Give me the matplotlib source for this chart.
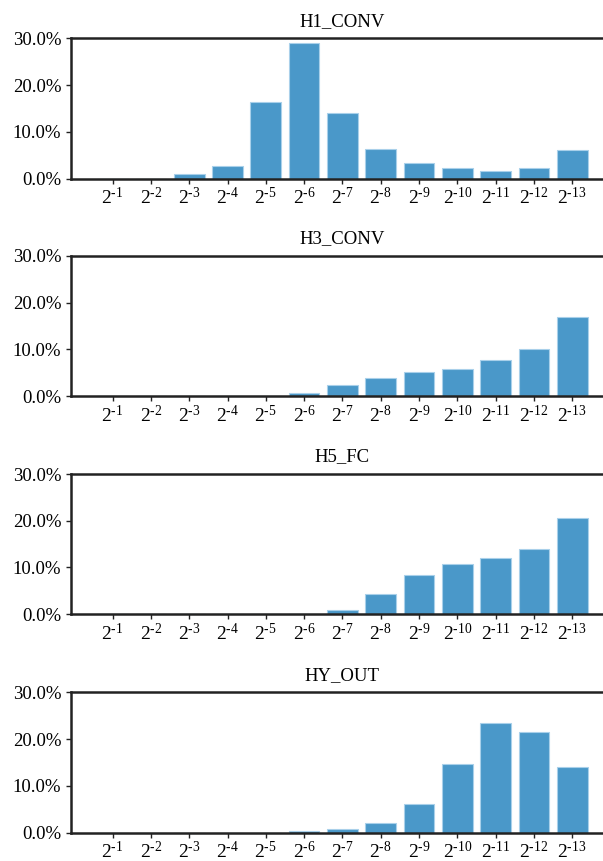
import matplotlib
matplotlib.use("Agg")
import matplotlib.pyplot as plt
import numpy as np
from matplotlib.ticker import PercentFormatter

plt.rcParams['font.family'] = ['Liberation Serif', 'DejaVu Serif']
plt.rcParams['mathtext.fontset'] = 'custom'
plt.rcParams['mathtext.rm'] = 'Liberation Serif'
plt.rcParams['mathtext.it'] = 'Liberation Serif'

# quantisation step bins 2^-1 ... 2^-13
exponents = list(range(1, 14))
tick_labels = [r'$2^{\text{-}%d}$' % e for e in exponents]

titles = ["H1_CONV", "H3_CONV", "H5_FC", "HY_OUT"]

h1_conv = [0.0, 0.0, 0.93, 2.7, 16.4, 28.9, 14.0, 6.36, 3.36, 2.29, 1.64, 2.29, 6.14]
h3_conv = [0.0, 0.0, 0.0, 0.0, 0.05, 0.79, 2.43, 4.0, 5.14, 5.86, 7.79, 10.07, 17.0]
h5_fc = [0.0, 0.0, 0.0, 0.0, 0.0, 0.0, 1.0, 4.4, 8.46, 10.8, 12.0, 14.0, 20.5]
hy_out = [0.0, 0.0, 0.0, 0.0, 0.0, 0.28, 0.71, 2.07, 6.13, 14.68, 23.4, 21.45, 14.04]

series = [h1_conv, h3_conv, h5_fc, hy_out]

W, H = 603, 861
fig = plt.figure(figsize=(W / 100, H / 100), dpi=100)

bar_color = '#4a98c9'
axes_tops = [38.3, 256.0, 474.0, 692.3]
axes_height = 140.2
left_px = 71.0
spacing_px = 38.3          # distance between bar centres
first_center_px = 112.6

x = np.arange(1, 14)
margin = (first_center_px - left_px) / spacing_px
xmin = 1 - margin
xmax = 13 + margin
right_px = first_center_px + (xmax - 1) * spacing_px   # runs past the figure edge

for top, title, vals in zip(axes_tops, titles, series):
    ax = fig.add_axes([left_px / W, 1 - (top + axes_height) / H,
                       (right_px - left_px) / W, axes_height / H])
    ax.bar(x, vals, width=0.8, color=bar_color, edgecolor='#a9d0ea',
           linewidth=0.8)
    ax.set_xlim(xmin, xmax)
    ax.set_ylim(0, 30)
    ax.set_yticks([0, 10, 20, 30])
    ax.yaxis.set_major_formatter(PercentFormatter(decimals=1))
    ax.set_xticks(x)
    ax.set_xticklabels(tick_labels)
    ax.tick_params(axis='both', labelsize=13.5, length=3.5, width=1.0,
                   color='#222222', pad=3.5)
    ax.tick_params(axis='x', labelsize=14, pad=2.5)
    for side in ['left', 'top', 'bottom', 'right']:
        ax.spines[side].set_linewidth(1.8)
        ax.spines[side].set_color('#222222')
    ax.set_title(title, fontsize=13.5, pad=9)

fig.savefig('out.png', dpi=100)
